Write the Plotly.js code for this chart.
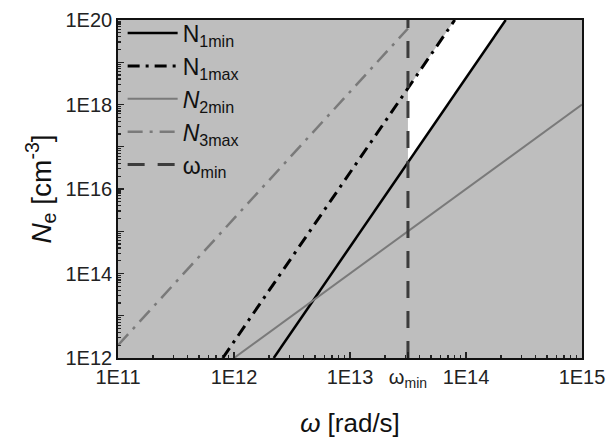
<!DOCTYPE html>
<html><head><meta charset="utf-8">
<script src="https://cdn.plot.ly/plotly-3.0.1.min.js"></script>
<style>html,body{margin:0;padding:0;background:#fff}</style>
</head><body><div id="chart" style="width:609px;height:445px"></div>
<script>
// ---- data (log-log straight lines, endpoints) ----
const omegaMin = 3.16e13;
const n1minOmega = [2.2e12, 2.2e14];
const n1minN     = [1e12, 1e20];
const n1maxOmega = [8.0e11, 8.0e13];
const n1maxN     = [1e12, 1e20];
const n2minOmega = [1e12, 1e15];
const n2minN     = [1e12, 1e18];
const n3maxOmega = [1e11, 3.16e13];
const n3maxN     = [2e12, 6.3e19];
const omegaMinOmega = [omegaMin, omegaMin];
const omegaMinN     = [1e12, 1e20];

const xTickVals = [1e11, 1e12, 1e13, omegaMin, 1e14, 1e15];
const xTickText = ['1E11', '1E12', '1E13', 'ω<sub>min</sub>', '1E14', '1E15'];
const yTickVals = [1e12, 1e14, 1e16, 1e18, 1e20];
const yTickText = ['1E12', '1E14', '1E16', '1E18', '1E20'];
const yOddDecades = [1e13, 1e15, 1e17, 1e19];

// value of a log-log line at x
function lineAt(xs, ys, x) {
  const lx0 = Math.log10(xs[0]), lx1 = Math.log10(xs[1]);
  const ly0 = Math.log10(ys[0]), ly1 = Math.log10(ys[1]);
  const t = (Math.log10(x) - lx0) / (lx1 - lx0);
  return Math.pow(10, ly0 + t * (ly1 - ly0));
}
function minorVals(lo, hi) {
  const out = [];
  for (let e = lo; e < hi; e++) for (let m = 2; m <= 9; m++) out.push(m * Math.pow(10, e));
  return out;
}

// white allowed region between omega_min, N1max, N1min and top
const regionX = [omegaMin, omegaMin, n1maxOmega[1], n1minOmega[1], omegaMin];
const regionY = [lineAt(n1minOmega, n1minN, omegaMin), lineAt(n1maxOmega, n1maxN, omegaMin),
                 n1maxN[1], n1minN[1], lineAt(n1minOmega, n1minN, omegaMin)];

const traces = [
  {x: regionX, y: regionY, mode: 'lines', fill: 'toself', fillcolor: '#ffffff',
   line: {width: 0}, showlegend: false, hoverinfo: 'skip'},
  {x: n1minOmega, y: n1minN, mode: 'lines', name: 'N<sub>1min</sub>',
   line: {color: '#000000', width: 2.5}},
  {x: n1maxOmega, y: n1maxN, mode: 'lines', name: 'N<sub>1max</sub>',
   line: {color: '#000000', width: 3, dash: '12px,6px,3px,6px'}},
  {x: n2minOmega, y: n2minN, mode: 'lines', name: '<i>N</i><sub>2min</sub>',
   line: {color: '#7a7a7a', width: 2}},
  {x: n3maxOmega, y: n3maxN, mode: 'lines', name: '<i>N</i><sub>3max</sub>',
   line: {color: '#7a7a7a', width: 2.5, dash: '15px,7px,3px,7px'}},
  {x: omegaMinOmega, y: omegaMinN, yaxis: 'y2', mode: 'lines', name: 'ω<sub>min</sub>',
   line: {color: '#3c3c3c', width: 3, dash: '17px,13px'}}
];

const fam = 'Liberation Sans, Arial, sans-serif';
const tickFont = {family: fam, size: 20, color: '#222'};
const layout = {
  width: 609, height: 445,
  margin: {l: 118, r: 27, t: 17, b: 87},
  paper_bgcolor: '#ffffff',
  plot_bgcolor: '#bebebe',
  showlegend: true,
  legend: {x: 0.01, y: 1.025, xanchor: 'left', yanchor: 'top', bgcolor: 'rgba(0,0,0,0)',
           font: {family: fam, size: 23, color: '#111'},
           itemwidth: 50, tracegroupgap: 0},
  xaxis: {type: 'log', range: [11, 15], tickmode: 'array', tickvals: xTickVals, ticktext: xTickText,
          ticks: 'inside', ticklen: 6, tickwidth: 1.2, tickcolor: '#222',
          minor: {tickmode: 'array', tickvals: minorVals(11, 15), ticks: 'inside', ticklen: 3, tickcolor: '#222'},
          showgrid: false, zeroline: false, showline: true, linecolor: '#111', linewidth: 1.8, mirror: true,
          tickfont: tickFont,
          title: {text: '<i>ω</i> [rad/s]', font: {family: fam, size: 26, color: '#111'}, standoff: 24}},
  yaxis: {type: 'log', range: [12, 20], tickmode: 'array', tickvals: yTickVals, ticktext: yTickText,
          ticks: 'inside', ticklen: 6, tickwidth: 1.2, tickcolor: '#222',
          minor: {tickmode: 'array', tickvals: minorVals(12, 20), ticks: 'inside', ticklen: 3, tickcolor: '#222'},
          showgrid: false, zeroline: false, showline: true, linecolor: '#111', linewidth: 1.8, mirror: true,
          tickfont: tickFont,
          title: {text: '<i>N</i><sub>e</sub> [cm<sup>-3</sup>]', font: {family: fam, size: 28, color: '#111'}, standoff: 6}},
  yaxis2: {type: 'log', range: [12, 20], overlaying: 'y', side: 'left', anchor: 'x',
           tickmode: 'array', tickvals: yOddDecades, showticklabels: false,
           ticks: 'inside', ticklen: 6, tickwidth: 1.2, tickcolor: '#222',
           showgrid: false, zeroline: false, showline: false}
};

Plotly.newPlot('chart', traces, layout, {displayModeBar: false, staticPlot: true});
</script></body></html>
